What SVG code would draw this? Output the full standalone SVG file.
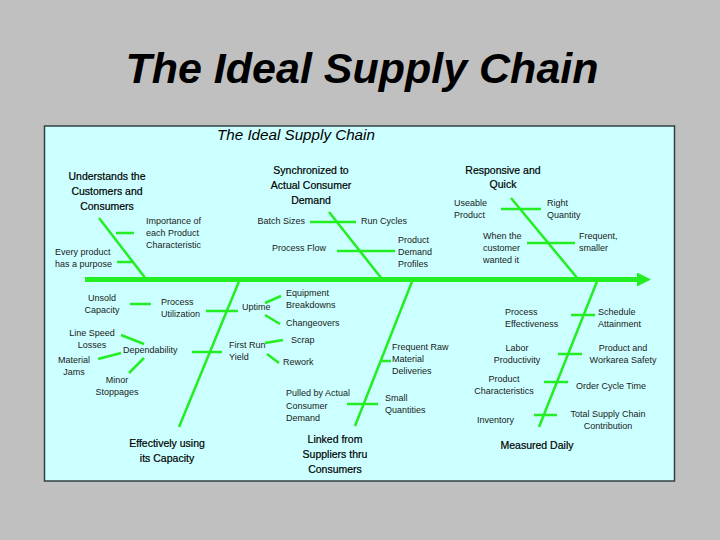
<svg xmlns="http://www.w3.org/2000/svg" width="720" height="540" viewBox="0 0 720 540">
<style>
.t{font-family:"Liberation Sans",Arial,sans-serif;fill:#1a1a1a}
.s{font-size:9px}
.h{font-size:10.5px;fill:#000;stroke:#000;stroke-width:0.2}
.m{text-anchor:middle}
.g{stroke:#22ee22;stroke-width:2.5;fill:none;stroke-linecap:butt}
</style>
<defs>
<marker id="ah" viewBox="0 0 14 14" refX="0" refY="7" markerWidth="14" markerHeight="14" markerUnits="userSpaceOnUse" orient="auto"><path d="M0,0 L14,7 L0,14 Z" fill="#22ee22"/></marker>
</defs>
<rect width="720" height="540" fill="#c0c0c0"/>
<text x="362" y="83" class="t m" style="font-size:43px;font-weight:bold;font-style:italic;fill:#000">The Ideal Supply Chain</text>
<rect x="44.5" y="126" width="630" height="355" fill="#ccffff" stroke="#334040" stroke-width="1.5"/>
<text x="217" y="140" class="t" style="font-size:15.2px;font-style:italic;fill:#000">The Ideal Supply Chain</text>

<g id="connectors">
<line x1="85" y1="279.5" x2="637" y2="279.5" stroke="#22ee22" stroke-width="5" marker-end="url(#ah)"/>
<line class="g" x1="99" y1="218" x2="146" y2="279"/>
<line class="g" x1="116" y1="233" x2="134" y2="233"/>
<line class="g" x1="117" y1="262" x2="134" y2="262"/>
<line class="g" x1="329" y1="212" x2="382" y2="279"/>
<line class="g" x1="310" y1="222" x2="356" y2="222"/>
<line class="g" x1="337" y1="251" x2="395" y2="251"/>
<line class="g" x1="511" y1="198" x2="578" y2="279"/>
<line class="g" x1="501" y1="209" x2="541" y2="209"/>
<line class="g" x1="527" y1="243" x2="575" y2="243"/>
<line class="g" x1="240" y1="279" x2="179" y2="427"/>
<line class="g" x1="206" y1="311" x2="238" y2="311"/>
<line class="g" x1="130" y1="304" x2="151" y2="304"/>
<line class="g" x1="192" y1="352" x2="222" y2="352"/>
<line class="g" x1="121" y1="335" x2="144" y2="344"/>
<line class="g" x1="98" y1="359" x2="121" y2="353"/>
<line class="g" x1="129" y1="373" x2="144" y2="358"/>
<line class="g" x1="265" y1="303" x2="281" y2="296"/>
<line class="g" x1="265" y1="315" x2="280" y2="324"/>
<line class="g" x1="265" y1="343" x2="283" y2="340"/>
<line class="g" x1="267" y1="354" x2="279" y2="363"/>
<line class="g" x1="413" y1="279" x2="355" y2="426"/>
<line class="g" x1="382" y1="361" x2="391" y2="361"/>
<line class="g" x1="347" y1="404" x2="378" y2="404"/>
<line class="g" x1="598" y1="279" x2="539" y2="427"/>
<line class="g" x1="571" y1="315" x2="595" y2="315"/>
<line class="g" x1="558" y1="354" x2="582" y2="354"/>
<line class="g" x1="544" y1="382" x2="568" y2="382"/>
<line class="g" x1="534" y1="415" x2="557" y2="415"/>
</g>

<g id="understands">
<text class="t h m" x="107" y="180">Understands the</text>
<text class="t h m" x="107" y="195">Customers and</text>
<text class="t h m" x="107" y="210">Consumers</text>
<text class="t s" x="146" y="224">Importance of</text>
<text class="t s" x="146" y="236">each Product</text>
<text class="t s" x="146" y="248">Characteristic</text>
<text class="t s" x="55" y="255">Every product</text>
<text class="t s" x="55" y="267">has a purpose</text>
</g>

<g id="synchronized">
<text class="t h m" x="311" y="174">Synchronized to</text>
<text class="t h m" x="311" y="189">Actual Consumer</text>
<text class="t h m" x="311" y="204">Demand</text>
<text class="t s" x="305" y="224" text-anchor="end">Batch Sizes</text>
<text class="t s" x="361" y="224">Run Cycles</text>
<text class="t s" x="326" y="251" text-anchor="end">Process Flow</text>
<text class="t s" x="398" y="243">Product</text>
<text class="t s" x="398" y="255">Demand</text>
<text class="t s" x="398" y="267">Profiles</text>
</g>

<g id="responsive">
<text class="t h m" x="503" y="174">Responsive and</text>
<text class="t h m" x="503" y="188">Quick</text>
<text class="t s" x="454" y="206">Useable</text>
<text class="t s" x="454" y="218">Product</text>
<text class="t s" x="547" y="206">Right</text>
<text class="t s" x="547" y="218">Quantity</text>
<text class="t s" x="483" y="239">When the</text>
<text class="t s" x="483" y="251">customer</text>
<text class="t s" x="483" y="263">wanted it</text>
<text class="t s" x="579" y="239">Frequent,</text>
<text class="t s" x="579" y="251">smaller</text>
</g>

<g id="effectively">
<text class="t h m" x="167" y="447">Effectively using</text>
<text class="t h m" x="167" y="462">its Capacity</text>
<text class="t s m" x="102" y="301">Unsold</text>
<text class="t s m" x="102" y="313">Capacity</text>
<text class="t s" x="161" y="305">Process</text>
<text class="t s" x="161" y="317">Utilization</text>
<text class="t s" x="242" y="310">Uptime</text>
<text class="t s" x="286" y="296">Equipment</text>
<text class="t s" x="286" y="308">Breakdowns</text>
<text class="t s" x="286" y="326">Changeovers</text>
<text class="t s" x="123" y="353">Dependability</text>
<text class="t s m" x="92" y="336">Line Speed</text>
<text class="t s m" x="92" y="348">Losses</text>
<text class="t s m" x="74" y="363">Material</text>
<text class="t s m" x="74" y="375">Jams</text>
<text class="t s m" x="117" y="383">Minor</text>
<text class="t s m" x="117" y="395">Stoppages</text>
<text class="t s" x="229" y="348">First Run</text>
<text class="t s" x="229" y="360">Yield</text>
<text class="t s" x="291" y="343">Scrap</text>
<text class="t s" x="283" y="365">Rework</text>
</g>

<g id="linked">
<text class="t h m" x="335" y="443">Linked from</text>
<text class="t h m" x="335" y="458">Suppliers thru</text>
<text class="t h m" x="335" y="473">Consumers</text>
<text class="t s" x="392" y="350">Frequent Raw</text>
<text class="t s" x="392" y="362">Material</text>
<text class="t s" x="392" y="374">Deliveries</text>
<text class="t s" x="286" y="396">Pulled by Actual</text>
<text class="t s" x="286" y="409">Consumer</text>
<text class="t s" x="286" y="421">Demand</text>
<text class="t s" x="385" y="401">Small</text>
<text class="t s" x="385" y="413">Quantities</text>
</g>

<g id="measured">
<text class="t h m" x="537" y="449">Measured Daily</text>
<text class="t s" x="505" y="315">Process</text>
<text class="t s" x="505" y="327">Effectiveness</text>
<text class="t s" x="598" y="315">Schedule</text>
<text class="t s" x="598" y="327">Attainment</text>
<text class="t s m" x="517" y="351">Labor</text>
<text class="t s m" x="517" y="363">Productivity</text>
<text class="t s m" x="623" y="351">Product and</text>
<text class="t s m" x="623" y="363">Workarea Safety</text>
<text class="t s m" x="504" y="382">Product</text>
<text class="t s m" x="504" y="394">Characteristics</text>
<text class="t s" x="576" y="389">Order Cycle Time</text>
<text class="t s" x="477" y="423">Inventory</text>
<text class="t s m" x="608" y="417">Total Supply Chain</text>
<text class="t s m" x="608" y="429">Contribution</text>
</g>
</svg>
